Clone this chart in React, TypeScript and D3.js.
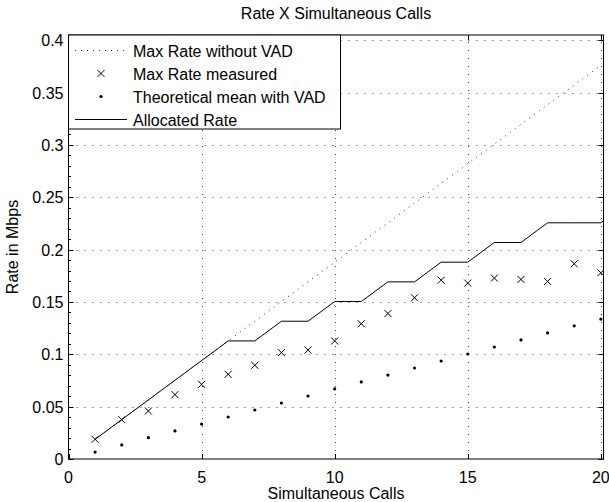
import React from "react";
import * as d3 from "d3";

const calls = [1,2,3,4,5,6,7,8,9,10,11,12,13,14,15,16,17,18,19,20];
const maxRateNoVad = [0.0188,0.0376,0.0564,0.0752,0.094,0.1128,0.1316,0.1504,0.1692,0.188,0.2068,0.2256,0.2444,0.2632,0.282,0.3008,0.3196,0.3384,0.3572,0.376];
const maxRateMeasured = [0.0188,0.0376,0.0459,0.0615,0.0713,0.0809,0.0895,0.1016,0.1041,0.1127,0.1292,0.139,0.154,0.1708,0.168,0.1728,0.1715,0.1696,0.1865,0.1779];
const theoreticalMean = [0.0066,0.0134,0.0204,0.0268,0.0334,0.0401,0.0468,0.0535,0.0602,0.0669,0.0736,0.0802,0.0869,0.0936,0.1003,0.107,0.1137,0.1204,0.1272,0.1337];
const allocCalls = [1,2,3,4,5,6,7,8,9,10,11,12,13,14,15,16,17,18,19,20,21];
const allocatedRate = [0.0188,0.0376,0.0564,0.0752,0.094,0.1128,0.1128,0.1316,0.1316,0.1504,0.1504,0.1692,0.1692,0.188,0.188,0.2068,0.2068,0.2256,0.2256,0.2256,0.2444];
const xTicks = [0,5,10,15,20];
const yTicks = [0,0.05,0.1,0.15,0.2,0.25,0.3,0.35,0.4];
const yTickLabels = ["0","0.05","0.1","0.15","0.2","0.25","0.3","0.35","0.4"];
const legendLabels = ["Max Rate without VAD","Max Rate measured","Theoretical mean with VAD","Allocated Rate"];
const title = "Rate X Simultaneous Calls";
const xLabel = "Simultaneous Calls";
const yLabel = "Rate in Mbps";

const W = 609, H = 502;
const L = 68.5, R = 603.5, T = 35, B = 459;
const FONT = "'Liberation Sans', Arial, Helvetica, sans-serif";
const FS = 16;

export default function App() {
  const x = d3.scaleLinear().domain([0, 20.1]).range([L, R]);
  const y = d3.scaleLinear().domain([0, 0.405]).range([B, T]);
  const lineGen = d3.line<[number, number]>().x(d => x(d[0])).y(d => y(d[1]));
  const noVadPath = lineGen(calls.map((c, i) => [c, maxRateNoVad[i]]));
  const allocPath = lineGen(allocCalls.map((c, i) => [c, allocatedRate[i]]));
  const minorY = d3.range(0, 0.4001, 0.01);

  const cross = (cx: number, cy: number, s: number, key: any) => (
    <path key={key} d={`M${cx - s},${cy - s}L${cx + s},${cy + s}M${cx - s},${cy + s}L${cx + s},${cy - s}`} stroke="#000" strokeWidth={1} fill="none" />
  );

  const legX = L, legY = T, legW = 272, legH = 94;
  const rowY = [50.5, 73.5, 96.5, 119.5];

  return (
    <svg width={W} height={H} style={{ position: "absolute", left: 0, top: 0, background: "#fff" }} fontFamily={FONT}>
      <rect x={0} y={0} width={W} height={H} fill="#fff" />
      <defs>
        <clipPath id="plot">
          <rect x={L} y={T} width={R - L} height={B - T} />
        </clipPath>
      </defs>
      {/* grid */}
      <g stroke="#000" strokeWidth={1} strokeDasharray="1,7" opacity={0.75}>
        {xTicks.filter(t => t > 0).map(t => (
          <line key={"gx" + t} x1={Math.round(x(t)) + 0.5} x2={Math.round(x(t)) + 0.5} y1={B} y2={T} />
        ))}
        {yTicks.filter(t => t > 0).map(t => (
          <line key={"gy" + t} x1={L} x2={R} y1={Math.round(y(t)) + 0.5} y2={Math.round(y(t)) + 0.5} />
        ))}
      </g>
      {/* data */}
      <g clipPath="url(#plot)">
        <path d={noVadPath || ""} fill="none" stroke="#333" strokeWidth={1} strokeDasharray="1,5" />
        <path d={allocPath || ""} fill="none" stroke="#000" strokeWidth={1} />
        {calls.map((c, i) => cross(x(c), y(maxRateMeasured[i]), 3.5, "m" + i))}
        {calls.map((c, i) => (
          <circle key={"t" + i} cx={x(c)} cy={y(theoreticalMean[i])} r={1.6} fill="#000" />
        ))}
      </g>
      {/* ticks */}
      <g stroke="#000" strokeWidth={1}>
        {xTicks.map(t => (
          <g key={"tx" + t}>
            <line x1={Math.round(x(t)) + 0.5} x2={Math.round(x(t)) + 0.5} y1={B} y2={B - 5} />
            <line x1={Math.round(x(t)) + 0.5} x2={Math.round(x(t)) + 0.5} y1={T} y2={T + 5} />
          </g>
        ))}
        {yTicks.map(t => (
          <g key={"ty" + t}>
            <line x1={L} x2={L + 5} y1={Math.round(y(t)) + 0.5} y2={Math.round(y(t)) + 0.5} />
            <line x1={R} x2={R - 5} y1={Math.round(y(t)) + 0.5} y2={Math.round(y(t)) + 0.5} />
          </g>
        ))}
        {minorY.map((t, i) => (
          <line key={"my" + i} x1={L} x2={L + 2.5} y1={Math.round(y(t)) + 0.5} y2={Math.round(y(t)) + 0.5} />
        ))}
      </g>
      {/* box */}
      <rect x={L} y={T} width={R - L} height={B - T} fill="none" stroke="#000" strokeWidth={1} />
      {/* tick labels */}
      <g fontSize={FS} fill="#000">
        {xTicks.map(t => (
          <text key={"lx" + t} x={x(t)} y={B + 24} textAnchor="middle">{t}</text>
        ))}
        {yTicks.map((t, i) => (
          <text key={"ly" + t} x={L - 5} y={y(t) + 6} textAnchor="end">{yTickLabels[i]}</text>
        ))}
      </g>
      <text x={(L + R) / 2} y={19} textAnchor="middle" fontSize={FS}>{title}</text>
      <text x={(L + R) / 2} y={499} textAnchor="middle" fontSize={FS}>{xLabel}</text>
      <text transform={`translate(18,${(T + B) / 2}) rotate(-90)`} textAnchor="middle" fontSize={FS}>{yLabel}</text>
      {/* legend */}
      <g>
        <rect x={legX} y={legY} width={legW} height={legH} fill="#fff" stroke="#000" strokeWidth={1} />
        <line x1={75} x2={127} y1={rowY[0]} y2={rowY[0]} stroke="#333" strokeDasharray="1,5" />
        {cross(101, rowY[1], 3.5, "lc")}
        <circle cx={101} cy={rowY[2]} r={1.6} fill="#000" />
        <line x1={75} x2={127} y1={rowY[3]} y2={rowY[3]} stroke="#000" strokeWidth={1} />
        {legendLabels.map((l, i) => (
          <text key={"leg" + i} x={133} y={rowY[i] + 6} fontSize={FS}>{l}</text>
        ))}
      </g>
    </svg>
  );
}
